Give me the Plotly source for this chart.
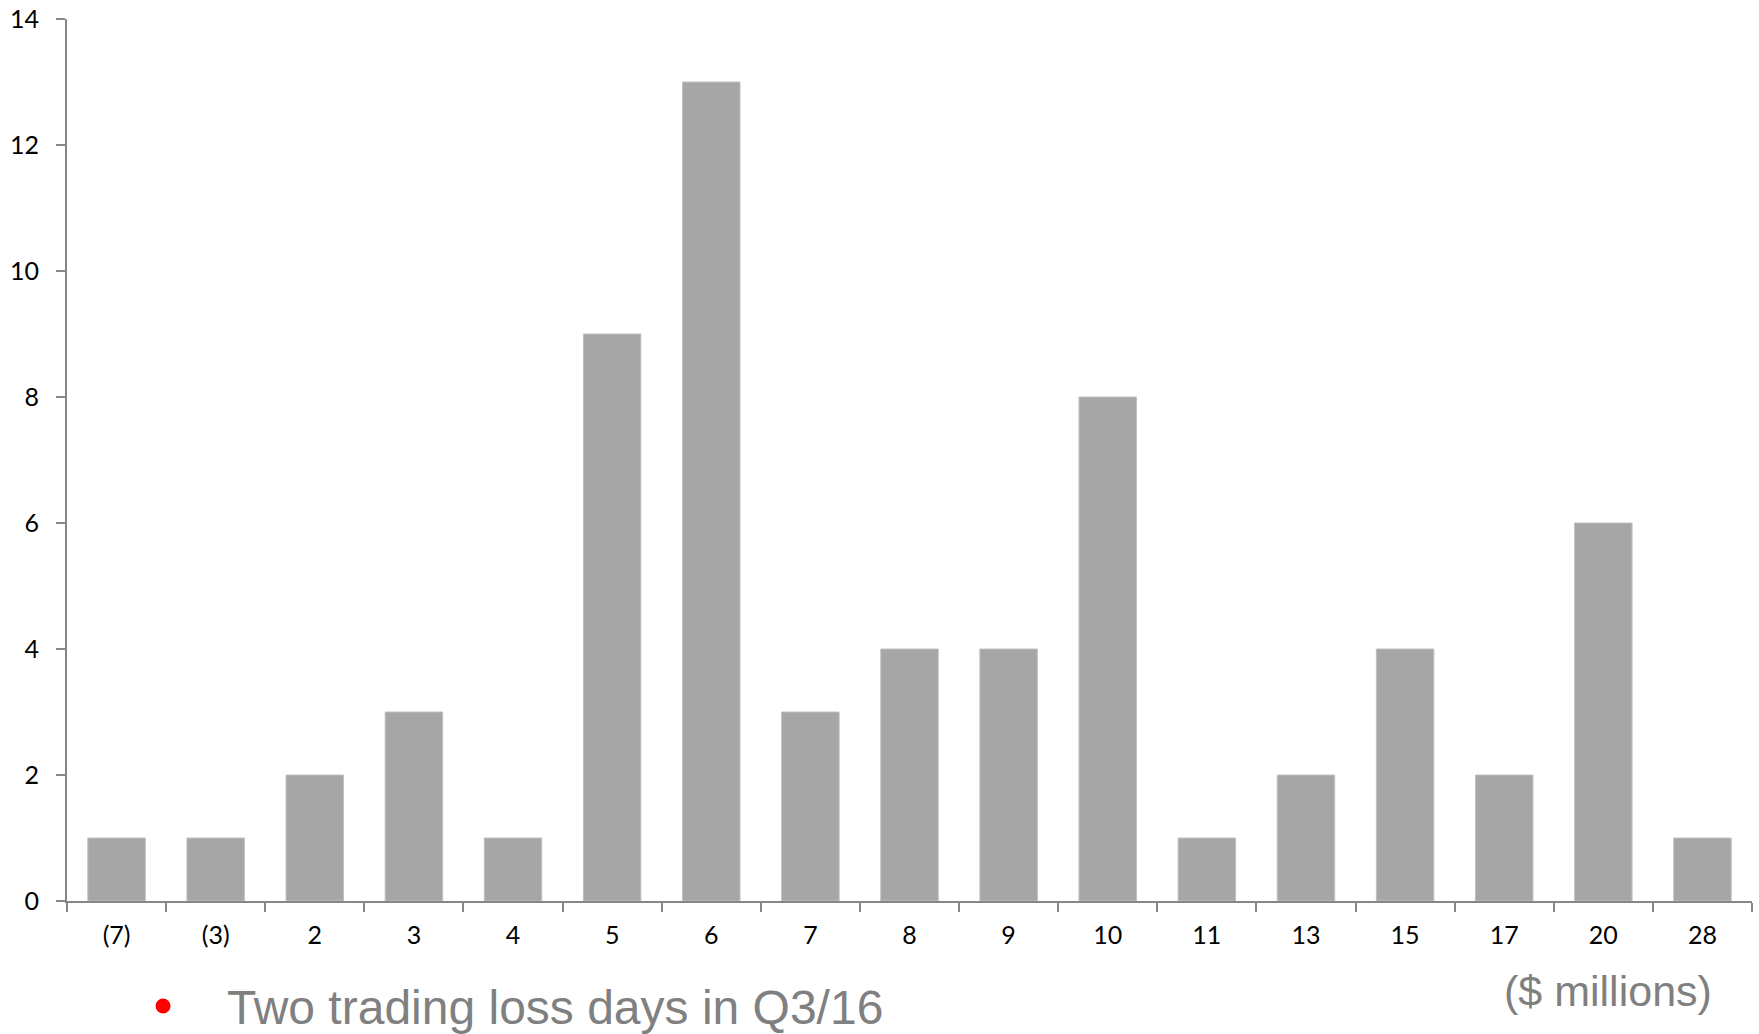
import plotly.graph_objects as go

# Distribution of daily trading revenue ($ millions) vs. number of days
revenue_buckets = ["(7)", "(3)", "2", "3", "4", "5", "6", "7", "8", "9",
                   "10", "11", "13", "15", "17", "20", "28"]
day_counts = [1, 1, 2, 3, 1, 9, 13, 3, 4, 4, 8, 1, 2, 4, 2, 6, 1]
y_ticks = [0, 2, 4, 6, 8, 10, 12, 14]

axis_grey = "#868686"
tick_font = dict(family="Lato, 'Open Sans', sans-serif", size=25, color="#000000")

fig = go.Figure()
fig.add_trace(go.Bar(
    x=revenue_buckets,
    y=day_counts,
    marker=dict(color="#A6A6A6", line=dict(color="#C0C0C0", width=1)),
    hoverinfo="x+y",
))

fig.update_layout(
    width=1759, height=1034,
    margin=dict(l=67, r=7, t=19, b=133, autoexpand=False),
    paper_bgcolor="#FFFFFF", plot_bgcolor="#FFFFFF",
    bargap=0.42,
    showlegend=False,
    xaxis=dict(
        type="category", automargin=False,
        showline=True, linecolor=axis_grey, linewidth=2,
        ticks="outside", tickson="boundaries", ticklen=9,
        tickcolor=axis_grey, tickwidth=2,
        tickfont=tick_font, ticklabelstandoff=11,
        showgrid=False, zeroline=False,
    ),
    yaxis=dict(
        range=[0, 14], tickvals=y_ticks, automargin=False,
        showline=True, linecolor=axis_grey, linewidth=2,
        ticks="outside", ticklen=9, tickcolor=axis_grey, tickwidth=2,
        tickfont=tick_font, ticklabelstandoff=12,
        showgrid=False, zeroline=False,
    ),
)

# Red bullet and note beneath the axis
fig.add_shape(
    type="circle", xref="paper", yref="paper",
    xsizemode="pixel", ysizemode="pixel",
    xanchor=0.057, yanchor=-0.1191,
    x0=-7.5, x1=7.5, y0=-7.5, y1=7.5,
    fillcolor="#FF0000", line=dict(width=0),
)
fig.add_annotation(
    text="Two trading loss days in Q3/16",
    xref="paper", yref="paper", x=0.094, y=-0.121,
    xanchor="left", yanchor="middle", showarrow=False,
    font=dict(family="'Liberation Sans', Arial, sans-serif", size=48, color="#808080"),
)
fig.add_annotation(
    text="($ millions)",
    xref="paper", yref="paper", x=0.9145, y=-0.1020,
    xanchor="center", yanchor="middle", showarrow=False,
    font=dict(family="'Liberation Sans', Arial, sans-serif", size=43, color="#808080"),
)

fig.write_html("out.html")
